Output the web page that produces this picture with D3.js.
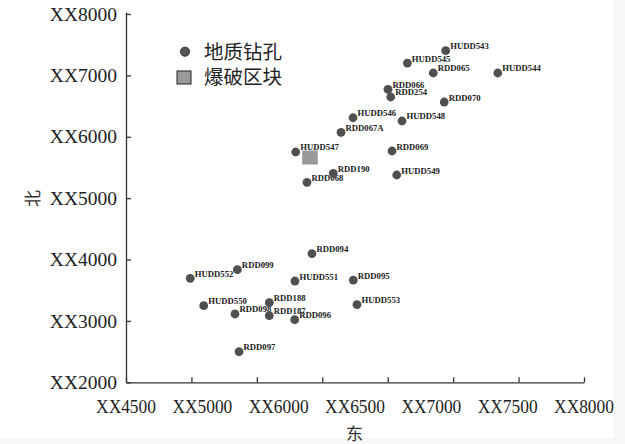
<!DOCTYPE html>
<html><head><meta charset="utf-8">
<script src="https://cdn.jsdelivr.net/npm/d3@7"></script>
<style>html,body{margin:0;padding:0;background:#f7f7f7;}svg{display:block;}</style>
</head><body>
<svg id="c" width="625" height="444"></svg>
<script>
// ---- data ----
const holeNames = ["HUDD543","HUDD545","RDD065","HUDD544","RDD066","RDD254","RDD070","HUDD546","HUDD548","RDD067A","HUDD547","RDD069","RDD190","RDD068","HUDD549",
  "RDD094","RDD099","HUDD552","HUDD551","RDD095","HUDD550","RDD188","HUDD553","RDD098","RDD187","RDD096","RDD097"];
const holeEast  = [6943,6650,6848,7341,6502,6523,6932,6235,6609,6143,5797,6533,6084,5883,6569,
  5921,5351,4991,5791,6237,5094,5595,6265,5333,5595,5789,5364];
const holeNorth = [7402,7201,7039,7039,6773,6648,6566,6310,6257,6073,5752,5768,5405,5258,5377,
  4095,3834,3694,3650,3666,3248,3297,3264,3113,3085,3020,2498];
const blastEast = [5906];
const blastNorth = [5662];
const xTickValues = [4500,5000,5500,6000,6500,7000,7500,8000];
const xTickLabels = ["XX4500","XX5000","XX6000","XX6500","XX7000","XX7500","XX8000"];
const yTickValues = [2000,3000,4000,5000,6000,7000,8000];
const yTickLabels = ["XX2000","XX3000","XX4000","XX5000","XX6000","XX7000","XX8000"];
const legendLabels = ["地质钻孔","爆破区块"];
const xTitle = "东", yTitle = "北";

// ---- chart ----
const svg = d3.select("#c");
svg.append("rect").attr("x",0).attr("y",0).attr("width",614).attr("height",438).attr("fill","#fff");

const x = d3.scaleLinear().domain([4500,8000]).range([126,584]);
const y = d3.scaleLinear().domain([2000,8000]).range([382.3,14]);
const xLab = d3.scalePoint().domain(xTickLabels).range([126,584]);

const axisColor = "#333";
// x axis (ticks inward)
const gx = svg.append("g").attr("transform","translate(0,382.3)")
  .call(d3.axisBottom(x).tickValues(xTickValues).tickSizeInner(-5).tickSizeOuter(0).tickFormat(""));
gx.select(".domain").attr("stroke",axisColor).attr("stroke-width",1.3);
gx.selectAll(".tick line").attr("stroke",axisColor).attr("stroke-width",1.3);
// y axis
const gy = svg.append("g").attr("transform","translate(126,0)")
  .call(d3.axisLeft(y).tickValues(yTickValues).tickSizeInner(-5).tickSizeOuter(0).tickFormat(""));
gy.select(".domain").attr("stroke",axisColor).attr("stroke-width",1.3).attr("d","M0.5,12.5V382.3");
gy.selectAll(".tick line").attr("stroke",axisColor).attr("stroke-width",1.3);

// x tick labels (separate label positions as in the reference)
svg.append("g").selectAll("text").data(xTickLabels).join("text")
  .attr("transform", d => `translate(${xLab(d)},412.7) scale(0.915,1)`)
  .attr("text-anchor","middle")
  .attr("font-family","'Liberation Serif','Times New Roman',serif")
  .attr("font-size",19).attr("fill","#222").text(d=>d);
// y tick labels
svg.append("g").selectAll("text").data(yTickValues).join("text")
  .attr("x",117).attr("y",d=>y(d)).attr("dy","0.34em")
  .attr("text-anchor","end")
  .attr("font-family","'Liberation Serif','Times New Roman',serif")
  .attr("font-size",19.5).attr("fill","#222").text((d,i)=>yTickLabels[i]);

// axis titles
svg.append("text").attr("x",354.5).attr("y",440).attr("text-anchor","middle")
  .attr("font-family","'Noto Sans CJK SC'").attr("font-size",17).attr("fill","#333").text(xTitle);
svg.append("text").attr("transform","translate(39,198.5) rotate(-90)").attr("text-anchor","middle")
  .attr("font-family","'Noto Sans CJK SC'").attr("font-size",17).attr("fill","#333").text(yTitle);

// labels first, then points (points overlap labels in the reference)
const holes = holeNames.map((n,i)=>({name:n,e:holeEast[i],n2:holeNorth[i]}));
svg.append("g").selectAll("text").data(holes).join("text")
  .attr("x",d=>x(d.e)+4.5).attr("y",d=>y(d.n2)-1.5)
  .attr("font-family","'Liberation Serif','Times New Roman',serif")
  .attr("font-weight","bold").attr("font-size",8.7).attr("fill","#222").text(d=>d.name);
svg.append("g").selectAll("circle").data(holes).join("circle")
  .attr("cx",d=>x(d.e)).attr("cy",d=>y(d.n2)).attr("r",4.4)
  .attr("fill","#505050");
svg.append("g").selectAll("rect").data(blastEast).join("rect")
  .attr("x",(d,i)=>x(d)-7.8).attr("y",(d,i)=>y(blastNorth[i])-7)
  .attr("width",15.6).attr("height",14).attr("fill","#9a9a9a");

// legend
svg.append("circle").attr("cx",185).attr("cy",51.7).attr("r",4.6).attr("fill","#555").attr("stroke","#222").attr("stroke-width",0.8);
svg.append("rect").attr("x",177).attr("y",71).attr("width",14).attr("height",13).attr("fill","#9a9a9a").attr("stroke","#222").attr("stroke-width",1);
svg.append("g").selectAll("text").data(legendLabels).join("text")
  .attr("x",204).attr("y",(d,i)=>58.7+i*25)
  .attr("font-family","'Noto Sans CJK SC'").attr("font-size",19.5).attr("fill","#222").text(d=>d);
</script>
</body></html>
